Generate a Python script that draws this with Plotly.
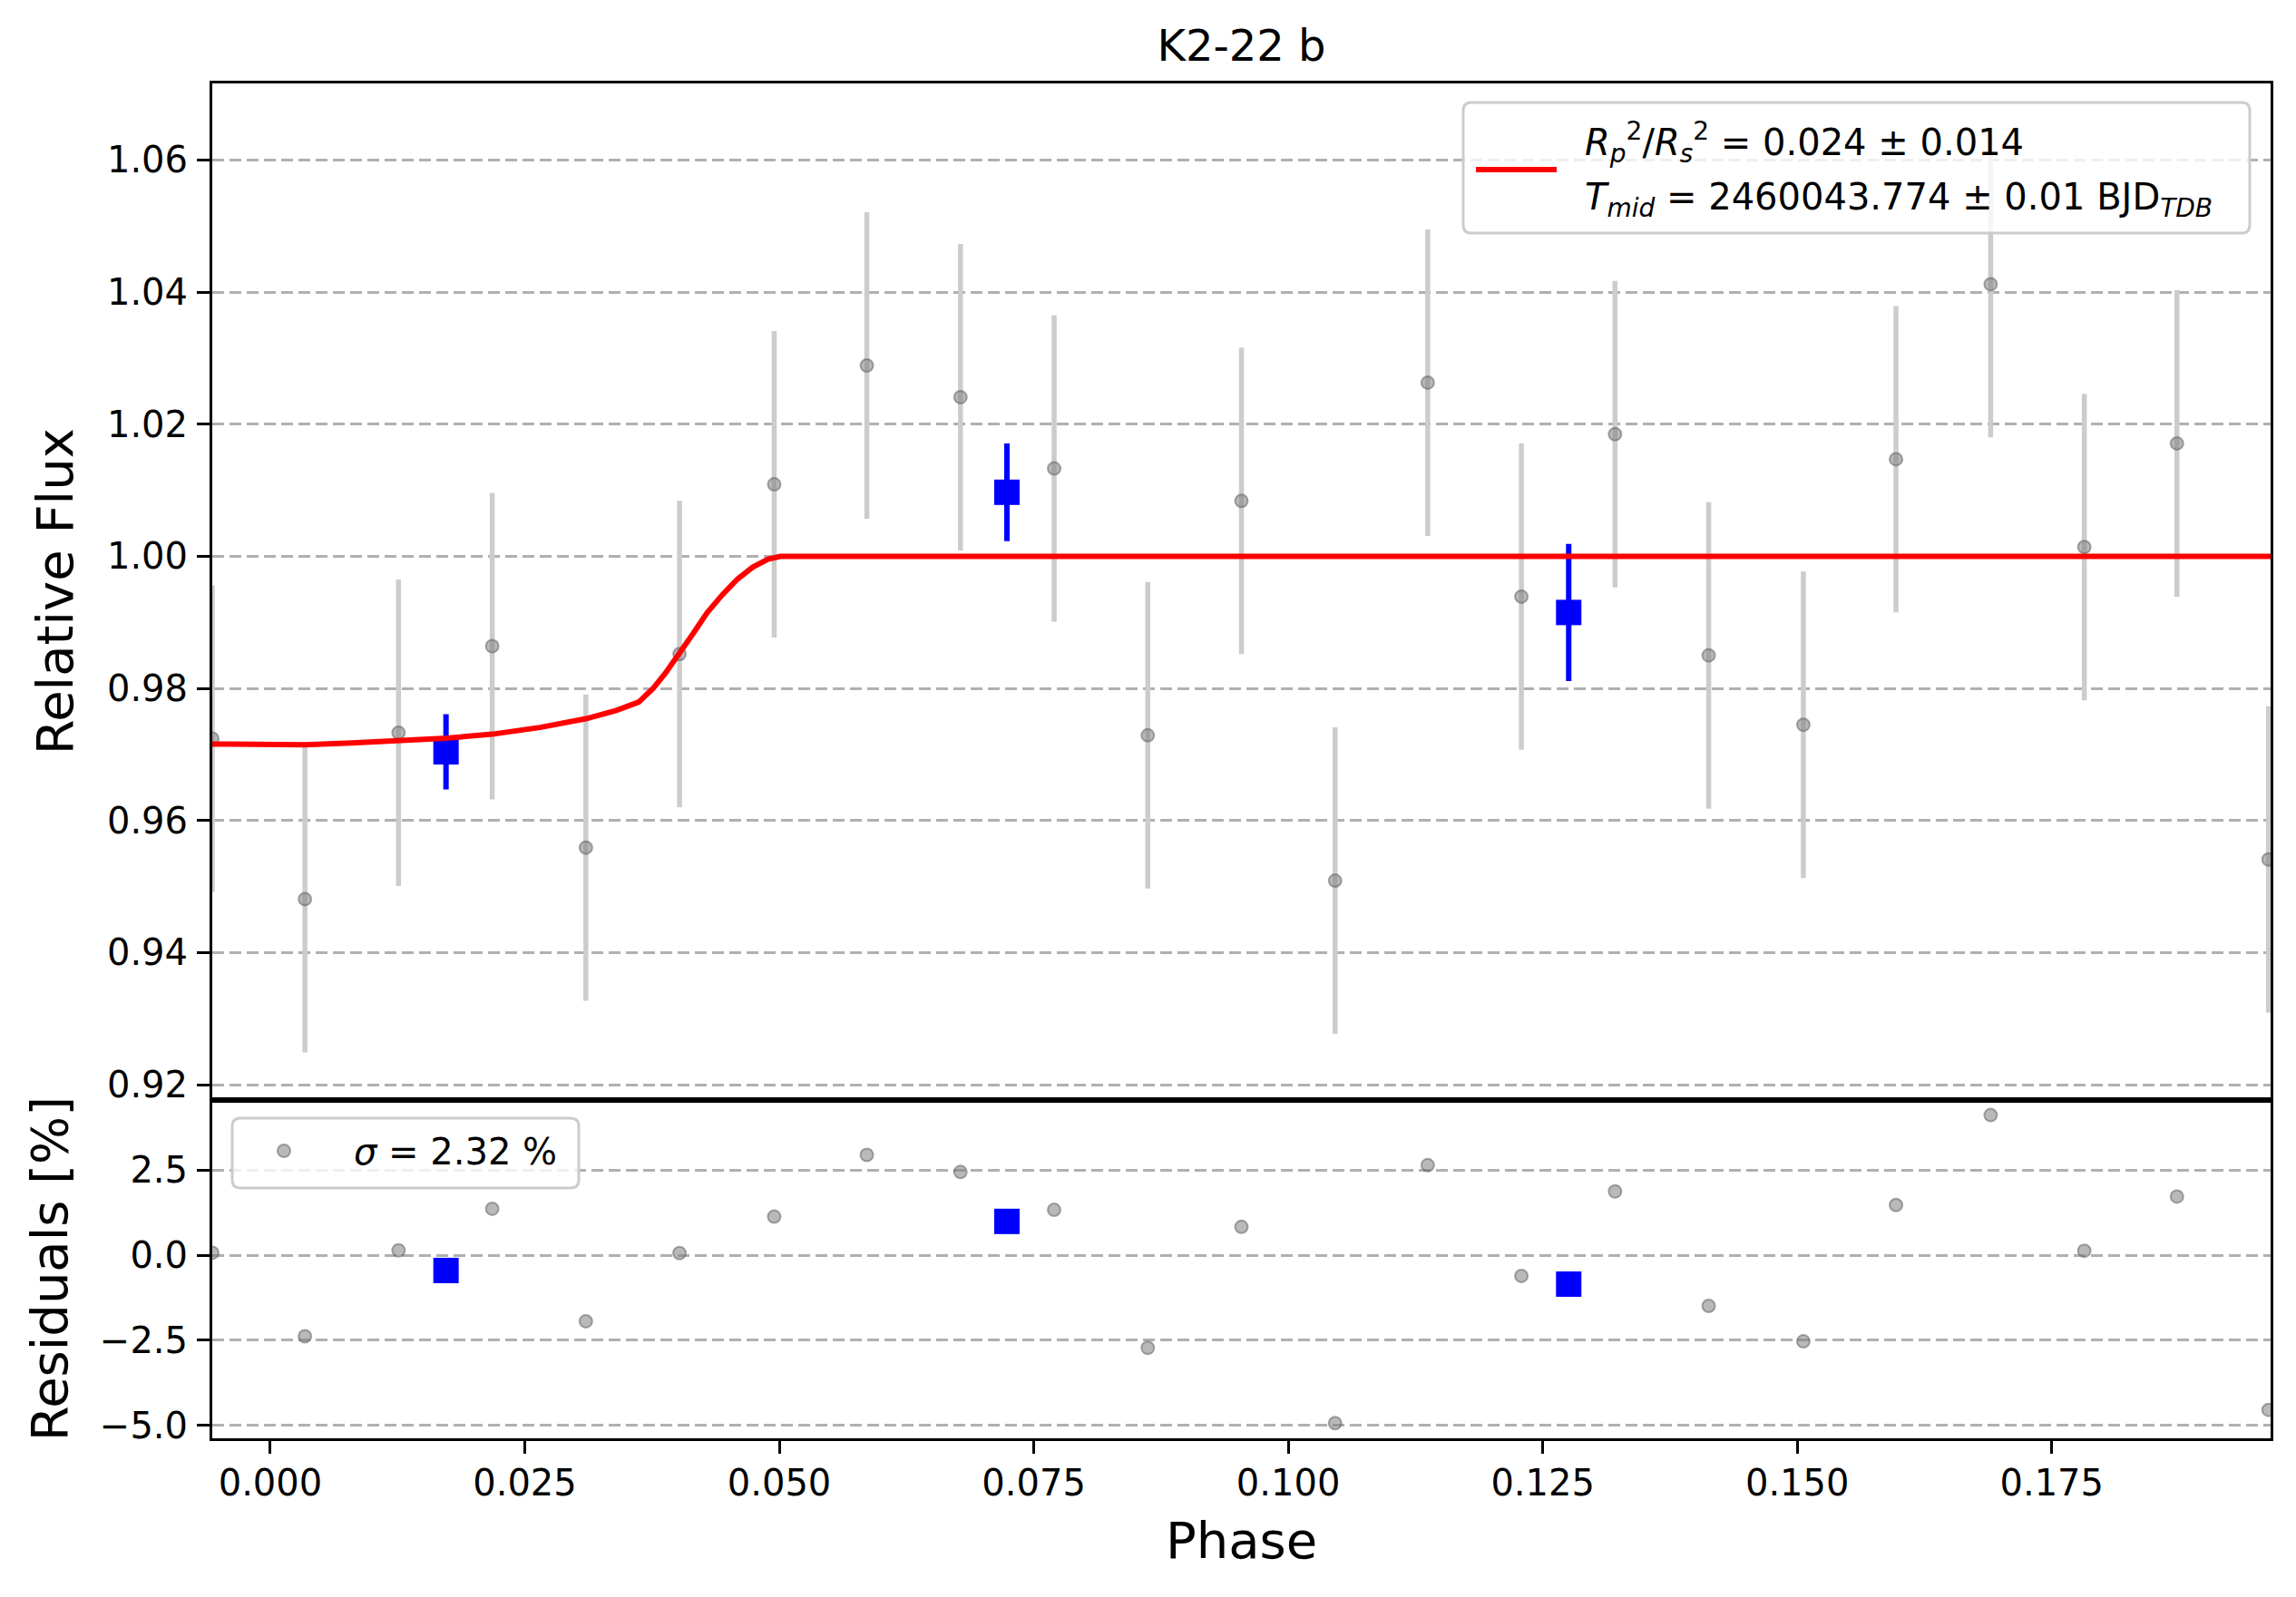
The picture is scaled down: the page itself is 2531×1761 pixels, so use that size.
import plotly.graph_objects as go

# ----- data -----
phase = [-0.0057, 0.0034, 0.0126, 0.0218, 0.0310, 0.0402, 0.0495, 0.0586,
         0.0678, 0.0770, 0.0862, 0.0954, 0.1046, 0.1137, 0.1229, 0.1321,
         0.1413, 0.1506, 0.1597, 0.1690, 0.1782, 0.1873, 0.1963]
flux = [0.9724, 0.9481, 0.9733, 0.9864, 0.9559, 0.9852, 1.0109, 1.0289,
        1.0241, 1.0133, 0.9729, 1.0084, 0.9509, 1.0263, 0.9939, 1.0185,
        0.9850, 0.9745, 1.0147, 1.0412, 1.0014, 1.0171, 0.9541]
flux_err = [0.0232, 0.0232, 0.0232, 0.0232, 0.0232, 0.0232, 0.0232, 0.0232,
            0.0232, 0.0232, 0.0232, 0.0232, 0.0232, 0.0232, 0.0232, 0.0232,
            0.0232, 0.0232, 0.0232, 0.0232, 0.0232, 0.0232, 0.0232]
resid = [0.07, -2.38, 0.14, 1.36, -1.94, 0.06, 1.13, 2.94,
         2.44, 1.33, -2.72, 0.83, -4.93, 2.64, -0.61, 1.87,
         -1.49, -2.53, 1.47, 4.11, 0.13, 1.72, -4.54]

bin_phase = [0.01726, 0.07236, 0.12755]
bin_flux = [0.9704, 1.0097, 0.9915]
bin_err = [0.0057, 0.0074, 0.0104]
bin_resid = [-0.45, 0.99, -0.85]

model_phase = [-0.0057, -0.002, 0.0034, 0.008, 0.0126, 0.0173, 0.0218, 0.0265,
               0.0310, 0.0340, 0.0362, 0.0376, 0.0388, 0.0400, 0.0415, 0.0429,
               0.0444, 0.0459, 0.0474, 0.0489, 0.0501, 0.1965]
model_flux = [0.97158, 0.97148, 0.97148, 0.97176, 0.97214, 0.97247, 0.97307, 0.97410,
              0.97541, 0.97667, 0.97795, 0.98000, 0.98229, 0.98481, 0.98823, 0.99143,
              0.99417, 0.99656, 0.99838, 0.99957, 1.00000, 1.00000]

flux_ticks = [0.92, 0.94, 0.96, 0.98, 1.00, 1.02, 1.04, 1.06]
flux_labels = ['0.92', '0.94', '0.96', '0.98', '1.00', '1.02', '1.04', '1.06']
resid_ticks = [-5.0, -2.5, 0.0, 2.5]
resid_labels = ['\u22125.0', '\u22122.5', '0.0', '2.5']
phase_ticks = [0.0, 0.025, 0.05, 0.075, 0.1, 0.125, 0.15, 0.175]
phase_labels = ['0.000', '0.025', '0.050', '0.075', '0.100', '0.125', '0.150', '0.175']

fit_line1 = ('<i>R</i><sub><i>p</i></sub><sup>2</sup>/<i>R</i><sub><i>s</i></sub><sup>2</sup>'
             ' = 0.024 \u00b1 0.014')
fit_line2 = '<i>T</i><sub><i>mid</i></sub> = 2460043.774 \u00b1 0.01 BJD<sub><i>TDB</i></sub>'
sigma_label = '<i>\u03c3</i> = 2.32 %'

FONT = 'DejaVu Sans'
W, H = 2531, 1761
OFF = 8  # the page body puts the figure 8px in from the top-left corner
L, R, T, B = 234 - OFF, 28 + OFF, 92 - OFF, 175 + OFF
PW, PH = W - L - R, H - T - B
X0, Y1 = 234, 1586  # plot area left / bottom on screen


# screen pixel -> paper helpers (for the hand-drawn legend boxes)
def px(X):
    return (X - X0) / PW


def py(Y):
    return (Y1 - Y) / PH


def round_box(x0, y0, x1, y1, r=9):
    return (f"M {px(x0 + r)},{py(y0)} L {px(x1 - r)},{py(y0)} "
            f"Q {px(x1)},{py(y0)} {px(x1)},{py(y0 + r)} L {px(x1)},{py(y1 - r)} "
            f"Q {px(x1)},{py(y1)} {px(x1 - r)},{py(y1)} L {px(x0 + r)},{py(y1)} "
            f"Q {px(x0)},{py(y1)} {px(x0)},{py(y1 - r)} L {px(x0)},{py(y0 + r)} "
            f"Q {px(x0)},{py(y0)} {px(x0 + r)},{py(y0)} Z")


GRAY_FILL = 'rgba(128,128,128,0.55)'
GRAY_EDGE = 'rgba(90,90,90,0.5)'
gray_marker = dict(size=14, color=GRAY_FILL, line=dict(width=2, color=GRAY_EDGE))

fig = go.Figure()

# top panel
fig.add_trace(go.Scatter(x=phase, y=flux, mode='markers', marker=gray_marker,
                         error_y=dict(type='data', array=flux_err, color='#cccccc',
                                      thickness=5.5, width=0),
                         xaxis='x', yaxis='y', showlegend=False))
fig.add_trace(go.Scatter(x=bin_phase, y=bin_flux, mode='markers',
                         marker=dict(symbol='square', size=28, color='blue'),
                         error_y=dict(type='data', array=bin_err, color='blue',
                                      thickness=6, width=0),
                         xaxis='x', yaxis='y', showlegend=False))
fig.add_trace(go.Scatter(x=model_phase, y=model_flux, mode='lines',
                         line=dict(color='red', width=6),
                         name='model', xaxis='x', yaxis='y', showlegend=False))

# residual panel
fig.add_trace(go.Scatter(x=phase, y=resid, mode='markers', marker=gray_marker,
                         name='residuals', xaxis='x2', yaxis='y2', showlegend=False))
fig.add_trace(go.Scatter(x=bin_phase, y=bin_resid, mode='markers',
                         marker=dict(symbol='square', size=28, color='blue'),
                         xaxis='x2', yaxis='y2', showlegend=False))

frame = dict(showline=True, mirror=True, linecolor='black', linewidth=3,
             zeroline=False, tickfont=dict(family=FONT, size=40, color='black'))
ygrid = dict(showgrid=True, gridcolor='#b0b0b0', gridwidth=3, griddash='13px,6px',
             ticks='outside', ticklen=14, tickwidth=3, tickcolor='black',
             ticklabelstandoff=2)
xrange = [-0.0057, 0.1965]

legend_shapes = [
    dict(type='path', xref='paper', yref='paper', path=round_box(1613, 113, 2480, 257),
         fillcolor='rgba(255,255,255,0.8)', line=dict(color='#cccccc', width=3)),
    dict(type='line', xref='paper', yref='paper', x0=px(1627), x1=px(1716),
         y0=py(187), y1=py(187), line=dict(color='red', width=6)),
    dict(type='path', xref='paper', yref='paper', path=round_box(256, 1233, 638, 1310),
         fillcolor='rgba(255,255,255,0.8)', line=dict(color='#cccccc', width=3)),
    dict(type='circle', xref='paper', yref='paper', x0=px(306), x1=px(320),
         y0=py(1262), y1=py(1276), fillcolor=GRAY_FILL,
         line=dict(color=GRAY_EDGE, width=2)),
]

fig.update_layout(
    width=W, height=H,
    margin=dict(l=L, r=R, t=T, b=B),
    plot_bgcolor='white', paper_bgcolor='white',
    font=dict(family=FONT, color='black'),
    showlegend=False,
    title=dict(text='K2-22 b', x=0.5, xref='paper', y=1 - 42 / H, yref='container',
               xanchor='center', yanchor='middle', font=dict(family=FONT, size=48)),
    xaxis=dict(domain=[0, 1], anchor='y', range=xrange, showticklabels=False, ticks='',
               showgrid=False, matches='x2', **frame),
    yaxis=dict(domain=[0.25, 1], anchor='x', range=[0.91775, 1.0716],
               tickvals=flux_ticks, ticktext=flux_labels, **ygrid, **frame),
    xaxis2=dict(domain=[0, 1], anchor='y2', range=xrange, tickvals=phase_ticks,
                ticktext=phase_labels, showgrid=False, ticks='outside', ticklen=14,
                tickwidth=3, tickcolor='black', ticklabelstandoff=-2, **frame),
    yaxis2=dict(domain=[0, 0.25], anchor='x2', range=[-5.374, 4.564],
                tickvals=resid_ticks, ticktext=resid_labels, **ygrid, **frame),
    shapes=legend_shapes,
    annotations=[
        dict(text='Relative Flux', x=px(60), y=0.625, xref='paper', yref='paper',
             textangle=-90, showarrow=False, xanchor='center', yanchor='middle',
             font=dict(family=FONT, size=56)),
        dict(text='Residuals [%]', x=px(54), y=0.125, xref='paper', yref='paper',
             textangle=-90, showarrow=False, xanchor='center', yanchor='middle',
             font=dict(family=FONT, size=56)),
        dict(text='Phase', x=0.5, y=py(1698), xref='paper', yref='paper',
             showarrow=False, xanchor='center', yanchor='middle',
             font=dict(family=FONT, size=56)),
        dict(text=fit_line1, x=px(1745), y=py(157), xref='paper', yref='paper',
             showarrow=False, xanchor='left', yanchor='middle',
             font=dict(family=FONT, size=40)),
        dict(text=fit_line2, x=px(1745), y=py(220), xref='paper', yref='paper',
             showarrow=False, xanchor='left', yanchor='middle',
             font=dict(family=FONT, size=40)),
        dict(text=sigma_label, x=px(388), y=py(1270), xref='paper', yref='paper',
             showarrow=False, xanchor='left', yanchor='middle',
             font=dict(family=FONT, size=40)),
    ],
)

fig.write_html('out.html')
